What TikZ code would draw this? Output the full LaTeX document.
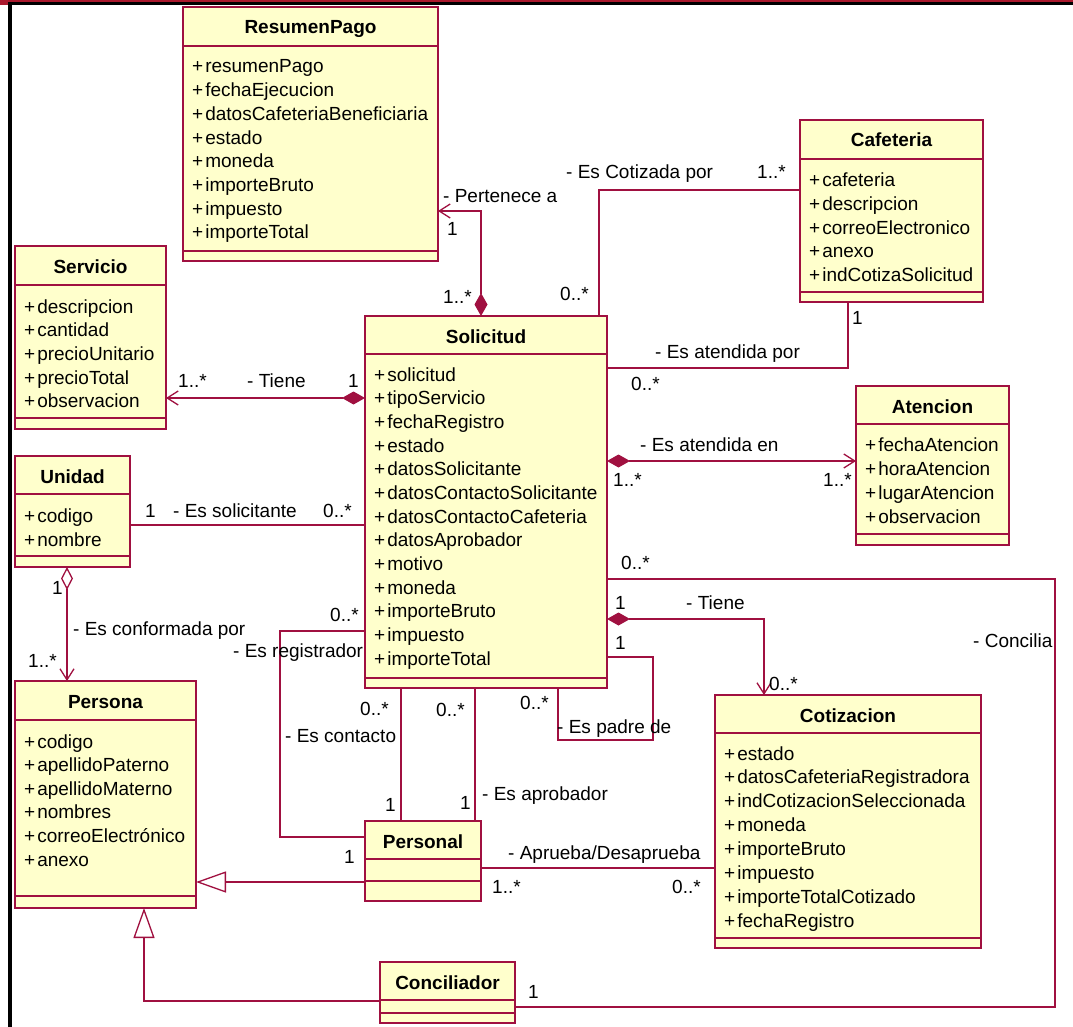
\documentclass[tikz,border=0pt]{standalone}
\usepackage{fontspec}
\setmainfont{Liberation Sans}
\usetikzlibrary{arrows.meta,calc}

\definecolor{umlred}{RGB}{160,16,64}
\definecolor{boxfill}{RGB}{255,255,204}
\definecolor{framered}{RGB}{170,25,45}

\tikzset{
  classbox/.style={draw=umlred, fill=boxfill, line width=1.1pt, rectangle, inner sep=0pt, outer sep=0pt},
  boxline/.style={draw=umlred, line width=1.1pt},
  clstitle/.style={anchor=base, inner sep=0pt, font=\fontsize{19}{22}\selectfont\bfseries},
  attr/.style={anchor=base west, inner sep=0pt, font=\fontsize{19}{22}\selectfont},
  lbl/.style={anchor=base west, inner sep=0pt, font=\fontsize{19}{22}\selectfont},
  assoc/.style={draw=umlred, line width=1.3pt, line join=miter},
  compo/.style={arrows={Diamond[length=23pt,width=13pt]-Straight Barb[length=11pt,width=14pt]}},
  aggr/.style={arrows={Diamond[open,length=23pt,width=12pt,fill=white]-Straight Barb[length=11pt,width=14pt]}},
  gener/.style={arrows={-Triangle[open,length=30pt,width=21pt,fill=white]}}
}

% class box: name, left, top, right, bottom, title rule y, attribute rule y, title
\newcommand{\umlclass}[8]{%
  \pgfmathsetmacro{\clsw}{#4-#2}%
  \pgfmathsetmacro{\clsh}{#5-#3}%
  \node[classbox, minimum width=\clsw pt, minimum height=\clsh pt, anchor=north west] (#1) at (#2,#3) {};
  \draw[boxline] (#1.west |- 0,#6) -- (#1.east |- 0,#6);
  \draw[boxline] (#1.west |- 0,#7) -- (#1.east |- 0,#7);
  \node[clstitle] (#1-t) at ($(#1.north)+(0,27)$) {#8};
}
% attribute list: name, first baseline y, line step, attributes
\newcommand{\umlattrs}[4]{%
  \foreach \a [count=\i from 0] in {#4} {
    \pgfmathsetmacro{\ay}{#2+\i*#3}
    \node[attr] (#1-a\i) at ($(#1.west |- 0,\ay)+(9,0)$) {+\hspace{2pt}\a};
  }
}

\begin{document}
\begin{tikzpicture}[x=1pt,y=-1pt]
\useasboundingbox (0,0) rectangle (1073,1027);
\fill[white] (0,0) rectangle (1073,1027);

% page frame
\fill[framered] (0,0) rectangle (1073,2.5);
\fill[framered] (0,0) rectangle (8,5);
\fill[black] (8,2.5) rectangle (1073,5);
\fill[black] (8,2.5) rectangle (12,1027);

% classes
\umlclass{rp}{183}{7}{438}{261}{46}{251}{ResumenPago}
\umlattrs{rp}{73}{23.7}{resumenPago,fechaEjecucion,datosCafeteriaBeneficiaria,estado,moneda,importeBruto,impuesto,importeTotal}

\umlclass{caf}{800}{120}{983}{302}{159}{292}{Cafeteria}
\umlattrs{caf}{187}{23.5}{cafeteria,descripcion,correoElectronico,anexo,indCotizaSolicitud}

\umlclass{serv}{15}{246}{166}{429}{285}{418}{Servicio}
\umlattrs{serv}{313}{23.7}{descripcion,cantidad,precioUnitario,precioTotal,observacion}

\umlclass{sol}{365}{316}{607}{688}{354}{678}{Solicitud}
\umlattrs{sol}{381}{23.67}{solicitud,tipoServicio,fechaRegistro,estado,datosSolicitante,datosContactoSolicitante,datosContactoCafeteria,datosAprobador,motivo,moneda,importeBruto,impuesto,importeTotal}

\umlclass{ate}{856}{386}{1009}{545}{424}{534}{Atencion}
\umlattrs{ate}{451}{24}{fechaAtencion,horaAtencion,lugarAtencion,observacion}

\umlclass{uni}{15}{456}{130}{567}{494}{556}{Unidad}
\umlattrs{uni}{522}{24}{codigo,nombre}

\umlclass{per}{15}{681}{196}{908}{720}{896}{Persona}
\umlattrs{per}{748}{23.6}{codigo,apellidoPaterno,apellidoMaterno,nombres,correoElectrónico,anexo}

\umlclass{cot}{715}{695}{981}{948}{733}{938}{Cotizacion}
\umlattrs{cot}{760}{23.86}{estado,datosCafeteriaRegistradora,indCotizacionSeleccionada,moneda,importeBruto,impuesto,importeTotalCotizado,fechaRegistro}

\umlclass{prs}{365}{821}{481}{901}{859}{881}{Personal}
\umlclass{con}{380}{962}{515}{1023}{1000}{1013}{Conciliador}

% associations
\draw[assoc, compo] (sol.north -| 481,0) |- (rp.east |- 0,211);
\draw[assoc] (sol.north -| 599,0) |- (caf.west |- 0,190);
\draw[assoc] (sol.east |- 0,368) -| (caf.south -| 848,0);
\draw[assoc, compo] (sol.west |- 0,398) -- (serv.east |- 0,398);
\draw[assoc] (uni.east |- 0,525) -- (sol.west |- 0,525);
\draw[assoc, aggr] (uni.south -| 67,0) -- (per.north -| 67,0);
\draw[assoc] (sol.west |- 0,631) -- ++(-85,0) |- (prs.west |- 0,837);
\draw[assoc] (sol.south -| 401,0) -- (prs.north -| 401,0);
\draw[assoc] (sol.south -| 475,0) -- (prs.north -| 475,0);
\draw[assoc] (sol.east |- 0,657) -| ++(46,83) -| (sol.south -| 558,0);
\draw[assoc, compo] (sol.east |- 0,619) -| (cot.north -| 764,0);
\draw[assoc] (sol.east |- 0,579) -- ++(448,0) |- (con.east |- 0,1007);
\draw[assoc, compo] (sol.east |- 0,461) -- (ate.west |- 0,461);
\draw[assoc] (prs.east |- 0,868) -- (cot.west |- 0,868);
% generalizations
\draw[assoc, gener] (prs.west |- 0,882) -- (per.east |- 0,882);
\draw[assoc, gener] (con.west |- 0,1001) -| (per.south -| 144,0);

% association labels
\node[lbl] (lpert) at (443,203) {- Pertenece a};
\node[lbl] (lpert1) at (447,236) {1};
\node[lbl] (lpert2) at (443,303) {1..*};
\node[lbl] (lcotz) at (566,179) {- Es Cotizada por};
\node[lbl] (lcotz1) at (757,179) {1..*};
\node[lbl] (lcotz2) at (560,300) {0..*};
\node[lbl] (lapor) at (655,358) {- Es atendida por};
\node[lbl] (lapor1) at (852,324) {1};
\node[lbl] (lapor2) at (631,390) {0..*};
\node[lbl] (lserv1) at (178,387) {1..*};
\node[lbl] (lserv) at (247,387) {- Tiene};
\node[lbl] (lserv2) at (348,387) {1};
\node[lbl] (luni1) at (145,517) {1};
\node[lbl] (luni) at (173,517) {- Es solicitante};
\node[lbl] (luni2) at (323,517) {0..*};
\node[lbl] (laten) at (640,451) {- Es atendida en};
\node[lbl] (laten1) at (613,486) {1..*};
\node[lbl] (laten2) at (823,486) {1..*};
\node[lbl] (lconc2) at (621,569) {0..*};
\node[lbl] (ltie1) at (615,609) {1};
\node[lbl] (ltie) at (686,609) {- Tiene};
\node[lbl] (lpad1) at (615,649) {1};
\node[lbl] (lconc) at (973,647) {- Concilia};
\node[lbl] (ltie2) at (769,690) {0..*};
\node[lbl] (lconf1) at (52,594) {1};
\node[lbl] (lconf) at (73,635) {- Es conformada por};
\node[lbl] (lconf2) at (28,667) {1..*};
\node[lbl] (lreg2) at (330,621) {0..*};
\node[lbl] (lreg) at (233,657) {- Es registrador};
\node[lbl] (lreg1) at (344,863) {1};
\node[lbl] (lcon2) at (360,715) {0..*};
\node[lbl] (lcon) at (285,742) {- Es contacto};
\node[lbl] (lcon1) at (385,811) {1};
\node[lbl] (lapr2) at (436,716) {0..*};
\node[lbl] (lapr1) at (460,809) {1};
\node[lbl] (lapr) at (482,800) {- Es aprobador};
\node[lbl] (lpad2) at (520,709) {0..*};
\node[lbl] (lpad) at (557,733) {- Es padre de};
\node[lbl] (lapd) at (508,859) {- Aprueba/Desaprueba};
\node[lbl] (lapd1) at (492,893) {1..*};
\node[lbl] (lapd2) at (672,893) {0..*};
\node[lbl] (lconc1) at (528,998) {1};
\end{tikzpicture}
\end{document}
